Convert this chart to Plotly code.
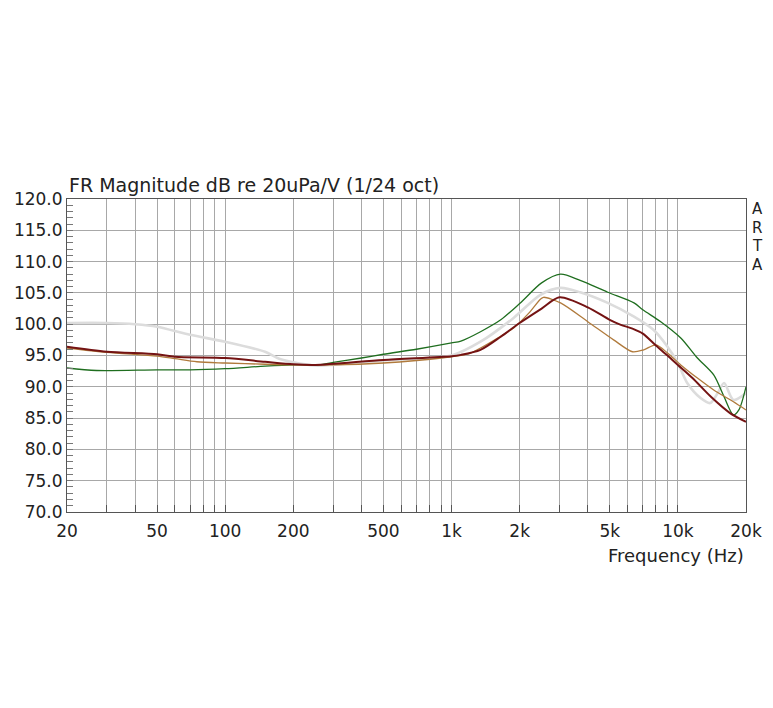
"""ARTA-style frequency response plot, four measurements on a log frequency axis."""

import numpy as np
import plotly.graph_objs as go

# --- data (Hz, dB) ---
grey_f = [20, 30, 40, 50, 70, 100, 150, 170, 200, 250, 300, 500, 1000, 1343, 1880,
          2470, 3030, 3700, 4900, 6400, 7800, 9000, 10000, 11000, 12600, 13900,
          15000, 16000, 17600, 20000]
grey_db = [100.2, 100.2, 100.0, 99.6, 98.3, 97.2, 95.6, 94.6, 93.9, 93.4, 93.5, 94.2,
           95.0, 97.2, 101.0, 104.7, 105.8, 105.1, 103.4, 101.2, 99.1, 96.4, 93.8,
           90.6, 88.2, 87.4, 89.0, 90.6, 87.9, 89.0]

green_f = [20, 27, 50, 70, 100, 150, 200, 260, 300, 400, 500, 700, 1000, 1100, 1343,
           1650, 2000, 2500, 3030, 3700, 4900, 6400, 7000, 8400, 10300, 12200, 14400,
           16000, 17600, 18600, 20000]
green_db = [93.0, 92.6, 92.7, 92.7, 92.9, 93.3, 93.5, 93.5, 93.9, 94.6, 95.2, 96.0,
            97.0, 97.3, 98.8, 100.7, 103.3, 106.6, 108.0, 107.0, 105.1, 103.4, 102.3,
            100.4, 97.8, 94.6, 91.9, 88.4, 85.5, 86.3, 90.0]

tan_f = [20, 30, 50, 60, 75, 100, 150, 200, 300, 500, 700, 1000, 1200, 1343, 1600,
         1880, 2200, 2470, 2550, 3030, 4000, 5200, 6300, 7060, 8000, 9000, 10300,
         12200, 14400, 17600, 20000]
tan_db = [96.2, 95.5, 94.9, 94.5, 94.0, 93.8, 93.6, 93.5, 93.5, 93.8, 94.2, 94.8,
          95.3, 96.2, 97.8, 99.4, 101.8, 104.0, 104.3, 103.4, 100.4, 97.5, 95.6, 95.9,
          96.7, 95.4, 93.5, 91.4, 89.5, 87.6, 86.3]

maroon_f = [20, 30, 50, 60, 100, 150, 200, 250, 500, 1000, 1100, 1343, 1650, 2000,
            2500, 3000, 4000, 5000, 5600, 6300, 7000, 8000, 9000, 10000, 11600, 14000,
            17000, 20000]
maroon_db = [96.4, 95.6, 95.2, 94.8, 94.6, 94.0, 93.6, 93.5, 94.3, 94.9, 95.1, 95.9,
             98.0, 100.2, 102.5, 104.3, 102.7, 100.7, 99.9, 99.3, 98.5, 96.6, 95.0,
             93.5, 91.4, 88.4, 85.8, 84.4]

grid_f = [20, 30, 40, 50, 60, 70, 80, 90, 100, 200, 300, 400, 500, 600, 700, 800, 900,
          1000, 2000, 3000, 4000, 5000, 6000, 7000, 8000, 9000, 10000, 20000]
labelled = {20: "20", 50: "50", 100: "100", 200: "200", 500: "500", 1000: "1k",
            2000: "2k", 5000: "5k", 10000: "10k", 20000: "20k"}
y_ticks = [70, 75, 80, 85, 90, 95, 100, 105, 110, 115, 120]

FONT = "DejaVu Sans, Verdana, sans-serif"

fig = go.Figure()
series = [
    (grey_f, grey_db, "#dcdcdc", 2.6),
    (green_f, green_db, "#1f6e1f", 1.3),
    (tan_f, tan_db, "#b07a3c", 1.3),
    (maroon_f, maroon_db, "#741313", 2.0),
]
for f, db, color, w in series:
    fig.add_trace(go.Scatter(x=f, y=db, mode="lines",
                             line=dict(color=color, width=w, shape="spline", smoothing=0.8),
                             hoverinfo="skip", showlegend=False))

# yellow cursor at 500 Hz
fig.add_shape(type="line", xref="x", yref="y domain", x0=np.log10(500), x1=np.log10(500),
              y0=0, y1=1, line=dict(color="#d8cc20", width=1.2), layer="above")

fig.update_xaxes(type="log", range=[np.log10(20), np.log10(20000)],
                 tickvals=grid_f, ticktext=[labelled.get(v, "") for v in grid_f],
                 showgrid=True, gridcolor="#a8a8a8", gridwidth=1,
                 ticks="inside", ticklen=7, tickcolor="#555", ticklabelstandoff=4,
                 showline=True, linecolor="#555", linewidth=1, mirror=True,
                 tickfont=dict(family=FONT, size=17, color="#222"),
                 zeroline=False, automargin=False)
fig.update_yaxes(range=[70, 120], tickvals=y_ticks,
                 ticktext=[f"{v:.1f}" for v in y_ticks],
                 showgrid=True, gridcolor="#a8a8a8", gridwidth=1,
                 ticks="inside", ticklen=6, tickcolor="#777",
                 minor=dict(dtick=1, ticks="inside", ticklen=6, tickcolor="#777", showgrid=False),
                 showline=True, linecolor="#555", linewidth=1, mirror=True,
                 tickfont=dict(family=FONT, size=17, color="#222"),
                 zeroline=False, automargin=False)

# annotation positions: page pixels relative to the plot area (x 67..746, y 199..512)
annotations = [
    dict(text="FR Magnitude dB re 20uPa/V (1/24 oct)", x=0.0, y=(512 - 185) / 313,
         xanchor="left", yanchor="middle", font=dict(size=19)),
    dict(text="Frequency (Hz)", x=1.0, y=(512 - 555) / 313,
         xanchor="right", yanchor="middle", font=dict(size=18)),
]
for letter, ypix in zip("ARTA", [209, 227.5, 246, 264.5]):
    annotations.append(dict(text=letter, x=(757 - 67) / 679, y=(512 - ypix) / 313,
                            xanchor="center", yanchor="middle", font=dict(size=15)))
for a in annotations:
    a.update(xref="paper", yref="paper", showarrow=False)
    a["font"].update(family=FONT, color="#222")

# page body has an 8px margin, so the figure is shrunk by that on every side
fig.update_layout(width=757, height=692, margin=dict(l=59, r=19, t=191, b=188),
                  paper_bgcolor="white", plot_bgcolor="white",
                  annotations=annotations)
fig.write_html("out.html")
